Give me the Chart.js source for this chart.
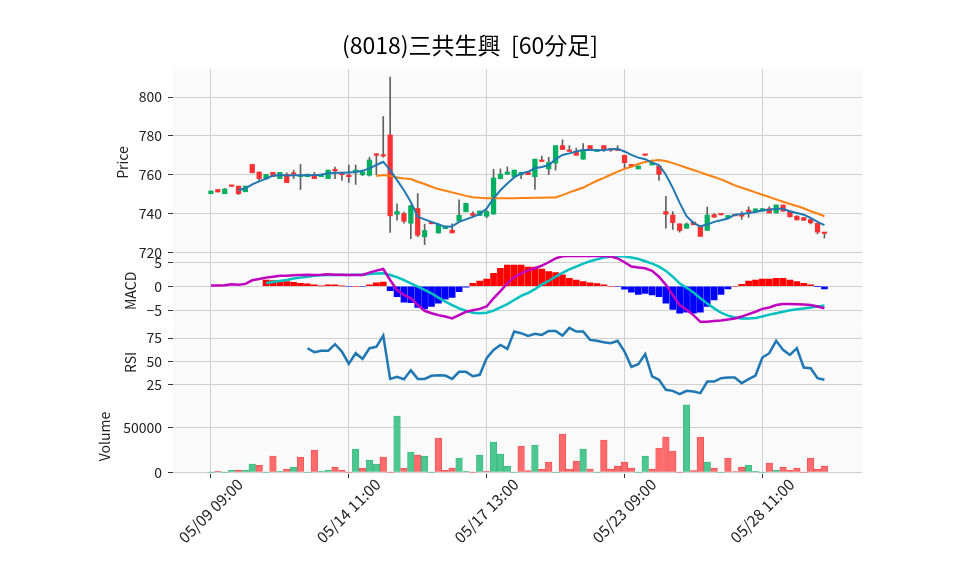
<!DOCTYPE html>
<html>
<head>
<meta charset="utf-8">
<script src="https://cdn.jsdelivr.net/npm/chart.js@4.4.0/dist/chart.umd.min.js"></script>
<style>
  html, body { margin: 0; padding: 0; background: #ffffff; }
  #chart { display: block; }
</style>
</head>
<body>
<canvas id="chart" width="958" height="575"></canvas>
<script>
// setup block
const xTickIndex = [0, 20, 40, 60, 80];
const xTickLabels = ['05/09 09:00', '05/14 11:00', '05/17 13:00', '05/23 09:00', '05/28 11:00'];

const opens = [
	750.2, 752.4, 750.2, 754.0, 754.1, 751.2, 765.3, 761.4, 757.8, 761.2,
	758.0, 760.2, 760.2, 759.0, 759.0, 760.2, 759.0, 758.0, 762.0, 760.0,
	759.0, 761.2, 760.0, 759.7, 770.0, 769.6, 780.5, 739.6, 740.0, 735.0,
	742.6, 728.0, 734.7, 730.0, 732.2, 731.4, 736.2, 740.9, 740.0, 739.0,
	738.6, 739.7, 758.0, 760.2, 759.0, 760.0, 761.2, 759.0, 767.6, 763.0,
	766.0, 775.0, 772.0, 772.0, 768.0, 775.0, 772.0, 775.0, 772.7, 772.5,
	770.0, 765.3, 763.0, 770.0, 765.0, 764.5, 741.0, 739.2, 734.7, 732.4,
	735.6, 733.2, 731.3, 739.4, 739.3, 737.9, 738.8, 738.6, 741.0, 741.1,
	741.2, 742.5, 740.3, 744.4, 741.2, 738.6, 737.9, 736.9, 735.0, 729.7,
];
const highs = [
	751.6, 752.4, 753.0, 754.0, 754.2, 754.2, 765.3, 761.4, 760.2, 761.2,
	761.2, 761.0, 762.4, 765.3, 760.3, 761.2, 760.3, 762.4, 764.0, 760.0,
	765.0, 765.0, 762.0, 769.0, 771.0, 790.0, 810.3, 745.0, 740.8, 744.4,
	750.3, 734.5, 734.7, 734.5, 733.6, 734.7, 747.0, 745.2, 740.9, 741.3,
	741.7, 762.8, 763.0, 764.0, 762.4, 761.2, 761.2, 768.0, 769.6, 769.0,
	775.0, 778.0, 775.0, 773.7, 776.0, 775.0, 773.0, 775.0, 773.1, 775.0,
	770.0, 765.3, 764.5, 770.0, 767.6, 764.5, 748.8, 741.0, 734.7, 735.2,
	735.6, 733.2, 743.4, 740.0, 739.3, 739.0, 738.8, 741.0, 743.5, 742.4,
	742.5, 743.5, 744.4, 744.4, 741.2, 739.0, 737.9, 736.9, 735.0, 729.7,
];
const lows = [
	750.2, 751.1, 750.2, 754.0, 749.8, 751.2, 761.0, 757.0, 757.8, 759.0,
	758.0, 755.9, 758.0, 752.4, 759.0, 758.0, 759.0, 758.0, 758.0, 757.0,
	756.0, 755.0, 759.5, 759.3, 760.0, 769.0, 730.2, 736.6, 735.0, 727.0,
	728.0, 724.0, 734.7, 729.8, 732.2, 730.0, 735.7, 740.9, 738.3, 739.0,
	737.8, 739.7, 757.8, 760.2, 759.0, 758.0, 760.0, 752.4, 766.8, 760.0,
	762.4, 773.0, 772.0, 770.0, 768.0, 772.6, 772.0, 772.0, 772.0, 772.5,
	763.0, 764.1, 763.0, 770.0, 765.0, 757.0, 732.4, 731.8, 730.4, 732.4,
	734.2, 728.2, 731.3, 738.1, 739.3, 737.9, 738.8, 737.0, 738.0, 741.1,
	741.2, 740.3, 740.3, 741.2, 738.3, 736.7, 736.5, 734.6, 729.5, 727.4,
];
const closes = [
	751.6, 751.1, 752.6, 754.0, 750.2, 754.1, 761.0, 758.0, 760.2, 759.0,
	761.2, 755.9, 760.2, 759.8, 760.3, 758.0, 760.3, 762.4, 762.0, 760.0,
	759.0, 762.4, 761.4, 767.6, 770.0, 769.6, 738.8, 741.0, 736.0, 744.0,
	728.8, 731.2, 734.7, 734.3, 733.6, 730.0, 739.1, 745.2, 739.0, 741.3,
	741.0, 758.3, 760.3, 761.4, 762.4, 761.2, 760.0, 768.0, 766.8, 766.3,
	775.0, 773.0, 772.0, 770.0, 772.9, 772.6, 773.0, 772.9, 772.7, 772.5,
	766.2, 764.1, 764.5, 770.0, 766.2, 760.2, 739.6, 735.3, 731.2, 734.6,
	734.2, 728.2, 739.2, 738.1, 739.3, 739.0, 738.8, 738.6, 741.0, 742.4,
	742.5, 740.3, 744.4, 741.2, 738.3, 736.7, 736.5, 735.2, 730.4, 729.7,
];

// moving averages
const ma5 = [
	null, null, null, null, 752.0, 753.0, 755.0, 756.6, 758.0, 759.5,
	759.9, 759.6, 759.7, 759.7, 759.7, 759.7, 760.0, 760.7, 761.0, 761.0,
	761.2, 761.4, 762.0, 763.3, 765.0, 766.7, 762.4, 757.2, 752.0, 746.0,
	738.3, 737.0, 735.7, 734.5, 733.0, 733.4, 735.7, 737.0, 738.3, 739.7,
	742.6, 747.8, 752.0, 755.5, 758.6, 760.7, 761.5, 763.3, 764.0, 765.0,
	768.0, 770.2, 771.0, 772.0, 772.8, 772.8, 772.6, 772.8, 773.1, 773.3,
	772.0, 770.2, 768.8, 768.0, 766.2, 765.0, 760.0, 753.2, 745.5, 738.6,
	735.2, 733.4, 734.3, 735.7, 736.5, 737.4, 739.4, 739.8, 740.3, 740.8,
	741.7, 742.0, 742.5, 742.4, 741.2, 740.3, 739.4, 737.7, 735.7, 734.0,
];
const ma25 = [
	null, null, null, null, null, null, null, null, null, null,
	null, null, null, null, null, null, null, null, null, null,
	null, null, null, null, 759.3, 759.8, 759.3, 758.6, 758.1, 757.8,
	756.4, 755.2, 753.8, 752.6, 751.7, 750.9, 750.0, 749.1, 748.4, 748.1,
	747.9, 747.9, 747.9, 747.9, 747.9, 748.0, 748.0, 748.1, 748.1, 748.2,
	748.3, 749.5, 750.9, 752.1, 753.4, 755.2, 756.9, 758.4, 760.0, 761.6,
	763.0, 764.1, 765.5, 766.6, 767.2, 767.6, 767.1, 766.0, 764.8, 763.6,
	762.4, 761.2, 760.0, 758.8, 757.6, 756.1, 754.5, 753.3, 752.1, 750.9,
	749.7, 748.5, 747.3, 746.1, 744.9, 743.9, 742.7, 741.2, 740.0, 738.6,
];

// MACD panel
const macdLine = [
	0.14, 0.14, 0.2, 0.4, 0.3, 0.5, 1.25, 1.5, 1.8, 2.0,
	2.2, 2.2, 2.3, 2.36, 2.4, 2.36, 2.4, 2.5, 2.4, 2.4,
	2.36, 2.36, 2.36, 2.85, 3.26, 3.6, 1.3, -0.8, -1.8, -2.5,
	-3.9, -5.1, -5.6, -6.0, -6.3, -6.7, -6.0, -5.3, -5.0, -4.7,
	-4.2, -2.5, -1.0, 0.6, 1.9, 2.7, 3.3, 3.75, 4.3, 5.0,
	5.8, 6.25, 6.3, 6.3, 6.3, 6.3, 6.3, 6.3, 6.2, 5.8,
	5.0, 4.1, 3.9, 3.75, 3.2, 2.0, 0.3, -1.8, -3.9, -4.9,
	-6.0, -7.4, -7.4, -7.2, -7.1, -6.9, -6.7, -6.3, -5.8, -5.3,
	-4.7, -4.4, -3.9, -3.7, -3.7, -3.75, -3.8, -3.9, -4.2, -4.6,
];
const signalLine = [
	null, null, null, null, null, null, null, null, 0.7, 0.9,
	1.1, 1.3, 1.6, 1.8, 2.0, 2.2, 2.3, 2.36, 2.36, 2.36,
	2.36, 2.4, 2.4, 2.57, 2.64, 2.7, 2.36, 1.9, 1.3, 0.6,
	-0.07, -0.76, -1.46, -2.36, -3.2, -3.9, -4.6, -5.1, -5.5, -5.6,
	-5.5, -5.07, -4.4, -3.7, -2.85, -2.0, -1.4, -0.6, 0.4, 1.1,
	2.0, 2.8, 3.5, 4.1, 4.7, 5.2, 5.6, 6.0, 6.2, 6.3,
	6.2, 6.0, 5.7, 5.2, 4.7, 4.1, 3.2, 2.0, 0.6, -0.3,
	-1.3, -2.5, -3.6, -4.6, -5.5, -6.1, -6.5, -6.7, -6.7, -6.6,
	-6.3, -5.9, -5.6, -5.3, -5.0, -4.8, -4.6, -4.4, -4.2, -4.0,
];
const macdHist = [
	null, null, null, null, null, null, null, null, 1.3, 1.2,
	1.0, 1.0, 0.8, 0.6, 0.5, 0.28, 0.05, 0.28, 0.28, 0.05,
	-0.1, 0.0, -0.1, 0.28, 0.7, 0.9, -0.9, -2.15, -3.3, -3.4,
	-4.4, -4.7, -4.2, -3.5, -2.7, -2.3, -1.1, -0.2, 0.6, 1.1,
	1.5, 2.7, 3.75, 4.4, 4.4, 4.4, 4.0, 4.0, 3.6, 3.05,
	2.85, 2.36, 1.67, 1.3, 1.0, 0.7, 0.55, 0.28, 0.0, -0.1,
	-0.6, -1.25, -1.67, -1.46, -1.8, -2.15, -3.5, -4.8, -5.6, -5.4,
	-5.6, -5.4, -4.2, -2.85, -1.67, -0.55, 0.0, 0.4, 1.1, 1.3,
	1.5, 1.5, 1.67, 1.67, 1.3, 1.0, 0.6, 0.28, -0.07, -0.55,
];

// RSI panel
const rsi = [
	null, null, null, null, null, null, null, null, null, null,
	null, null, null, null, 64.0, 59.7, 61.2, 61.2, 68.3, 60.4,
	47.1, 58.6, 52.5, 64.0, 65.5, 77.7, 30.9, 33.1, 30.6, 40.3,
	30.9, 30.9, 34.2, 34.9, 34.5, 30.9, 38.5, 38.5, 33.8, 35.3,
	53.2, 62.2, 67.6, 63.3, 82.0, 80.2, 77.3, 79.5, 78.4, 82.7,
	82.7, 77.7, 86.0, 82.0, 82.0, 73.0, 72.0, 70.5, 69.4, 72.0,
	60.4, 43.9, 46.8, 57.6, 33.5, 29.9, 19.1, 18.0, 14.4, 18.0,
	17.3, 15.5, 28.0, 28.0, 31.7, 32.4, 32.4, 26.3, 30.6, 34.5,
	54.0, 58.6, 72.0, 62.2, 56.8, 64.0, 43.2, 42.4, 31.7, 29.9,
];

// Volume panel
const volumes = [
	0, 1100, 0, 2200, 2200, 2200, 9000, 7800, 0, 17900,
	1100, 3400, 5600, 16800, 0, 24600, 1100, 2200, 5600, 2200,
	0, 25700, 4500, 13400, 9000, 16800, 0, 62700, 4500, 22400,
	19000, 17900, 0, 38000, 2200, 4500, 15700, 1100, 0, 19000,
	1100, 33600, 20100, 6700, 0, 29100, 1900, 30200, 3400, 11200,
	0, 42500, 3400, 12300, 25700, 3400, 0, 35800, 3400, 6700,
	11200, 4500, 0, 17900, 3400, 26900, 39200, 23500, 0, 75000,
	1900, 39200, 11200, 4500, 0, 15700, 750, 5600, 7800, 1100,
	0, 10100, 2200, 5600, 2200, 4500, 0, 15700, 3400, 6700,
];

const upColor = '#00b060';
const downColor = '#fe3032';
const volUp = '#4dc790';
const volDown = '#fd6b6c';
const FONT = '"Noto Sans CJK JP", "Noto Sans", sans-serif';

const points = (arr) => arr.map((v, i) => ({ x: i, y: v }));
const volIsDown = (i) => i > 0 && closes[i] < closes[i - 1];

const data = {
	datasets: [
		{
			type: 'line', label: 'MA5', data: points(ma5), yAxisID: 'yPrice',
			borderColor: '#1f77b4', borderWidth: 2, pointRadius: 0, order: 1,
		},
		{
			type: 'line', label: 'MA25', data: points(ma25), yAxisID: 'yPrice',
			borderColor: '#ff7f0e', borderWidth: 2, pointRadius: 0, order: 1,
		},
		{
			type: 'bar', label: 'body', yAxisID: 'yPrice', order: 2,
			data: opens.map((o, i) => ({ x: i, y: [o, closes[i]] })),
			backgroundColor: (c) => (closes[c.dataIndex] > opens[c.dataIndex] ? upColor : downColor),
			barThickness: 4.6, minBarLength: 1.5,
		},
		{
			type: 'bar', label: 'wick', yAxisID: 'yPrice', order: 3,
			data: lows.map((l, i) => ({ x: i, y: [l, highs[i]] })),
			backgroundColor: '#606060', barThickness: 1,
		},
		{
			type: 'line', label: 'MACD', data: points(macdLine), yAxisID: 'yMacd',
			borderColor: '#c000c0', borderWidth: 2.5, pointRadius: 0, order: 1,
		},
		{
			type: 'line', label: 'Signal', data: points(signalLine), yAxisID: 'yMacd',
			borderColor: '#00c0c0', borderWidth: 2.5, pointRadius: 0, order: 1,
		},
		{
			type: 'bar', label: 'Hist', data: points(macdHist), yAxisID: 'yMacd', order: 4,
			backgroundColor: (c) => (macdHist[c.dataIndex] >= 0 ? '#ff0000' : '#0000ff'),
			barThickness: 6,
		},
		{
			type: 'line', label: 'RSI', data: points(rsi), yAxisID: 'yRsi',
			borderColor: '#1f77b4', borderWidth: 2.5, pointRadius: 0, order: 1,
		},
		{
			type: 'bar', label: 'Volume', data: points(volumes), yAxisID: 'yVol', order: 4,
			backgroundColor: (c) => (volIsDown(c.dataIndex) ? volDown : volUp),
			borderColor: (c) => (volIsDown(c.dataIndex) ? '#f04e50' : '#3bb87f'),
			borderWidth: (c) => (volumes[c.dataIndex] > 0 ? 0.8 : 0),
			borderSkipped: 'start',
			barThickness: 6.6,
		},
	],
};

function yPanel(min, max, ticks, weight, pos, title, titleX, fmt) {
	return {
		type: 'linear', position: 'left', stack: 'panels', stackWeight: weight, weight: pos,
		min: min, max: max, offset: false,
		afterBuildTicks: (axis) => { axis.ticks = ticks.map((v) => ({ value: v })); },
		afterFit: (axis) => { axis.width = 173; },
		grid: { color: '#d0d0d0', tickColor: '#333333', tickLength: 5, offset: false },
		border: { display: false },
		ticks: { color: '#222222', padding: 6, font: { family: FONT, size: 14 }, callback: fmt || ((v) => String(v)) },
		title: {
			display: true, text: title, color: '#222222',
			font: { family: FONT, size: 14 }, padding: { top: titleX - 8.4, bottom: 0 },
		},
	};
}

// config block
const config = {
	type: 'bar',
	data: data,
	plugins: [{
		id: 'panels',
		beforeDraw(chart) {
			const { ctx, chartArea } = chart;
			ctx.save();
			ctx.fillStyle = '#fafafa';
			['yPrice', 'yMacd', 'yRsi', 'yVol'].forEach((id) => {
				const s = chart.scales[id];
				ctx.fillRect(chartArea.left, s.top, chartArea.right - chartArea.left, s.bottom - s.top);
			});
			ctx.restore();
		},
		afterDraw(chart) {
			const { ctx } = chart;
			ctx.save();
			ctx.fillStyle = '#000000';
			ctx.font = '23px ' + FONT;
			ctx.textAlign = 'center';
			ctx.textBaseline = 'middle';
			ctx.fillText('(8018)三共生興  [60分足]', 470, 45);
			ctx.restore();
		},
	}],
	options: {
		responsive: false,
		animation: false,
		layout: { padding: { left: 0, right: 96, top: 69, bottom: 0 } },
		datasets: { bar: { grouped: false } },
		plugins: { legend: { display: false }, tooltip: { enabled: false } },
		scales: {
			x: {
				type: 'linear', min: -5.5, max: 94.45, offset: false,
				afterBuildTicks: (axis) => { axis.ticks = xTickIndex.map((v) => ({ value: v })); },
				afterFit: (axis) => { axis.height = 101; },
				grid: { color: '#d0d0d0', tickColor: '#333333', tickLength: 4, offset: false },
				border: { display: false },
				ticks: {
					color: '#222222', maxRotation: 45, minRotation: 45, autoSkip: false,
					labelOffset: 29, padding: -3, font: { family: FONT, size: 15.5 },
					callback: (v) => xTickLabels[xTickIndex.indexOf(v)],
				},
			},
			yVol: yPanel(-2000, 81600, [0, 50000], 75, 1, 'Volume', 105),
			yRsi: yPanel(9.2, 88.3, [25, 50, 75], 73.3, 2, 'RSI', 131),
			yMacd: yPanel(-8.2, 6.3, [-5, 0, 5], 69.7, 3, 'MACD', 131,
				(v) => (v < 0 ? '\u2212' + Math.abs(v) : String(v))),
			yPrice: yPanel(718.1, 814.5, [720, 740, 760, 780, 800], 187, 4, 'Price', 123),
		},
	},
};

// render / init block
const mainChart = new Chart(document.getElementById('chart'), config);
</script>
</body>
</html>
